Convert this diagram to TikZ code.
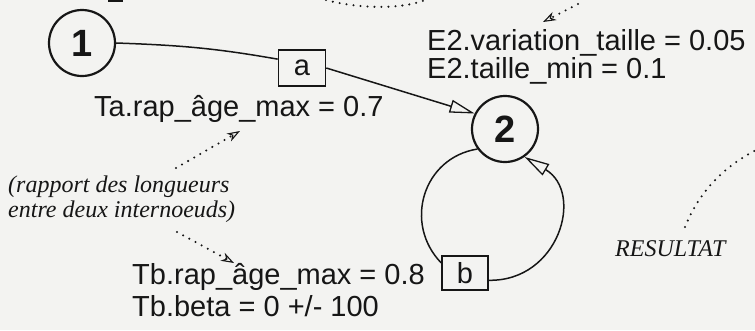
\documentclass[tikz,border=0pt]{standalone}
\usepackage{fontspec}
\setmainfont{Liberation Sans}
\newfontfamily\serifit{Liberation Serif}
\usetikzlibrary{arrows.meta}
\definecolor{paper}{RGB}{243,243,241}
\definecolor{ink}{RGB}{22,22,22}
\begin{document}
\begin{tikzpicture}[x=1pt,y=1pt,
  lab/.style={anchor=base west, inner sep=0pt, font=\fontsize{29}{32}\selectfont, text=ink},
  note/.style={anchor=base west, inner sep=0pt, font=\serifit\itshape\fontsize{24}{26}\selectfont, text=ink},
  state/.style={circle, draw=ink, line width=2.2pt, minimum size=66pt, inner sep=0pt, font=\bfseries\fontsize{38}{40}\selectfont, text=ink},
  tbox/.style={draw=ink, line width=1.6pt, minimum width=47pt, minimum height=36pt, inner sep=0pt, font=\fontsize{29}{30}\selectfont, text=ink},
  edge/.style={draw=ink, line width=1.5pt},
  opentip/.style={-{Triangle[open, length=25pt, width=13pt, line width=1.3pt]}},
  dotline/.style={draw=ink, line width=2.3pt, line cap=round, dash pattern=on 0pt off 7pt},
  dotarrow/.style={dotline, -{Stealth[open, length=13pt, width=9pt, inset=4pt, line width=1.1pt]}},
]
\useasboundingbox (0,0) rectangle (755,-330);
\fill[paper] (0,0) rectangle (755,-330);
\clip (0,0) rectangle (755,-330);

% states and transition boxes
\node[state] (n1) at (82,-43) {1};
\node[state] (n2) at (505,-129) {2};
\node[tbox] (a) at (302,-68) {a};
\node[tbox, minimum width=46pt, minimum height=34pt] (b) at (465,-273) {b};

% labels
\node[lab] (e2v) at (427,-50) {E2.variation\_taille = 0.05};
\node[lab] (e2t) at (427,-78) {E2.taille\_min = 0.1};
\node[lab] (ta) at (94,-116) {Ta.rap\_âge\_max = 0.7};
\node[lab] (tb) at (132,-284) {Tb.rap\_âge\_max = 0.8};
\node[lab] (tbb) at (132,-316) {Tb.beta = 0 +/- 100};
\node[note] (r1) at (8,-192) {(rapport des longueurs};
\node[note] (r2) at (8,-217) {entre deux internoeuds)};
\node[note] (res) at (615,-256) {RESULTAT};

% cut-off fragment at the top edge
\fill[ink] (108,0) rectangle (123,-2.2);

% transitions
\draw[edge] (n1.east) to[out=-2, in=170] (a.160);
\draw[edge, opentip] (a.east) -- (n2.153);
\draw[edge] (n2.216) .. controls +(189:55) and +(134:55) .. (b.157);
\draw[edge, opentip] (b.-17) .. controls +(359:70) and +(329:70) .. (n2.-55);

% dotted annotations
\coordinate (pa0) at (176,-168);
\coordinate (pa1) at (240,-131);
\coordinate (pb0) at (177,-232);
\coordinate (pb1) at (234,-263);
\coordinate (pe0) at (578,-4);
\coordinate (pe1) at (543,-22);
\draw[dotarrow] (pa0) -- (pa1);
\draw[dotarrow] (pb0) -- (pb1);
\draw[dotarrow] (pe0) -- (pe1);
\coordinate (t0) at (326,0);
\coordinate (t1) at (430,2);
\draw[dotline] (t0) .. controls (360,-9) and (405,-10) .. (t1);
\coordinate (r0) at (685,-227);
\coordinate (r9) at (762,-147);
\draw[dotline] (r0) .. controls (700,-190) and (725,-165) .. (r9);
\end{tikzpicture}
\end{document}
